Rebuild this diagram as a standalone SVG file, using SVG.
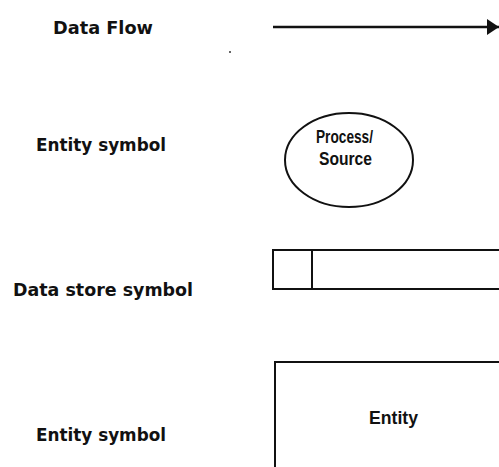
<svg xmlns="http://www.w3.org/2000/svg" width="499" height="467" viewBox="0 0 499 467">
  <style>
    .label { font-family: "DejaVu Sans", Verdana, sans-serif; font-weight: bold; font-size: 18px; fill: #111; }
    .node-text { font-family: "Liberation Sans", Arial, sans-serif; font-weight: bold; font-size: 18px; fill: #111; }
    .shape { fill: none; stroke: #111; stroke-width: 2; }
  </style>
  <defs>
    <marker id="arrow" viewBox="0 0 12 16" refX="12" refY="8" markerWidth="12" markerHeight="16" markerUnits="userSpaceOnUse" orient="auto">
      <path d="M0,0 L12,8 L0,16 Z" fill="#111"/>
    </marker>
  </defs>
  <rect width="499" height="467" fill="#fff"/>

  <!-- legend labels -->
  <g id="labels">
    <text class="label" x="53" y="34" textLength="100" lengthAdjust="spacingAndGlyphs">Data Flow</text>
    <text class="label" x="36" y="151" textLength="130" lengthAdjust="spacingAndGlyphs">Entity symbol</text>
    <text class="label" x="13" y="296" textLength="180" lengthAdjust="spacingAndGlyphs">Data store symbol</text>
    <text class="label" x="36" y="441" textLength="130" lengthAdjust="spacingAndGlyphs">Entity symbol</text>
  </g>

  <!-- connectors -->
  <g id="connectors">
    <line x1="273" y1="27" x2="499" y2="27" stroke="#111" stroke-width="2.5" marker-end="url(#arrow)"/>
  </g>

  <!-- stray dot -->
  <circle cx="230" cy="52" r="1" fill="#333"/>

  <!-- process / source -->
  <g id="process">
    <ellipse class="shape" cx="349" cy="160" rx="64" ry="47" stroke-width="1.8"/>
    <text class="node-text" x="316" y="143" textLength="57" lengthAdjust="spacingAndGlyphs">Process/</text>
    <text class="node-text" x="319" y="165" textLength="53" lengthAdjust="spacingAndGlyphs">Source</text>
  </g>

  <!-- data store -->
  <g id="datastore">
    <path class="shape" d="M501,250 H273 V289 H501 M312,250 V289"/>
  </g>

  <!-- entity -->
  <g id="entity">
    <path class="shape" d="M501,362 H275 V469"/>
    <text class="node-text" x="369" y="424" textLength="49" lengthAdjust="spacingAndGlyphs">Entity</text>
  </g>
</svg>
